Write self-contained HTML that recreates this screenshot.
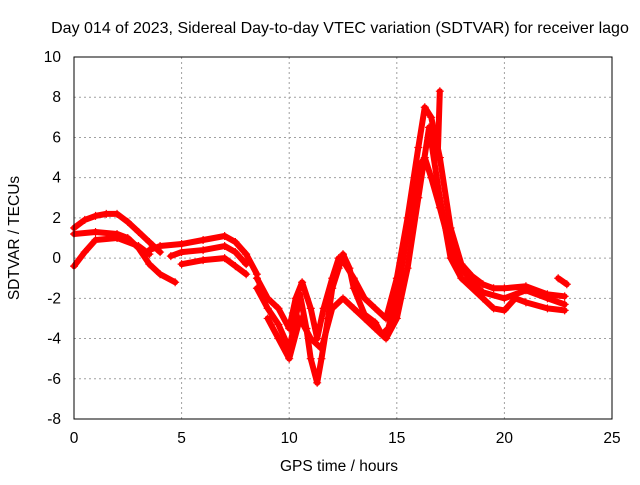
<!DOCTYPE html>
<html><head><meta charset="utf-8"><style>
body{margin:0;background:#fff}
svg text{font-family:"Liberation Sans",sans-serif;font-size:15.5px;fill:#000}
</style></head><body>
<svg id="c" width="640" height="480" xmlns="http://www.w3.org/2000/svg">
<text x="340" y="33" text-anchor="middle" style="font-size:16px">Day 014 of 2023, Sidereal Day-to-day VTEC variation (SDTVAR) for receiver lago</text>
<text x="339" y="471" text-anchor="middle">GPS time / hours</text>
<text transform="translate(19,238) rotate(-90)" text-anchor="middle">SDTVAR / TECUs</text>
<g id="grid"></g><g id="series"></g>
<rect x="74" y="57" width="538" height="362" fill="none" stroke="#000"/>
</svg>
<script>
const xTicks=[0,5,10,15,20,25];
const yTicks=[-8,-6,-4,-2,0,2,4,6,8,10];
const trackA=[[0,1.5],[0.5,1.9],[1,2.1],[1.5,2.2],[2,2.2],[2.5,1.8],[3,1.3],[3.5,0.8],[4,0.3]];
const trackB=[[0,1.2],[1,1.3],[2,1.2],[2.5,1.0],[3,0.5],[3.5,-0.3],[4,-0.8],[4.7,-1.2]];
const trackC=[[0,-0.4],[0.5,0.3],[1,0.9],[2,1.0],[3,0.6],[3.5,0.2]];
const trackD=[[3.5,0.4],[4,0.6],[5,0.7],[6,0.9],[7,1.1],[7.5,0.8],[8,0.2],[8.5,-0.8]];
const trackE=[[4.5,0.1],[5,0.3],[6,0.4],[7,0.6],[7.5,0.3],[8,-0.3]];
const trackF=[[5,-0.3],[6,-0.1],[7,0.0],[7.5,-0.4],[8,-0.8]];
const trackG=[[8.5,-1.5],[9,-2.5],[9.5,-3.3],[10,-4.5],[10.3,-3],[10.5,-1.8],[10.8,-3.5],[11,-5],[11.3,-6.2],[11.5,-5],[11.8,-3],[12,-1.5],[12.3,-0.5],[12.5,0.2],[12.8,-0.5],[13,-1.5],[13.5,-2.8],[14,-3.2],[14.3,-3.8],[14.6,-3.5],[15,-2],[15.3,0],[15.6,2],[16,4.5],[16.3,5],[16.6,4],[17,2.5],[17.5,0.5],[18,-0.5],[18.5,-1.2],[19,-1.7],[20,-2.0],[21,-1.6],[22,-2.0],[22.8,-2.3]];
const trackH=[[8.5,-1],[9,-2],[9.5,-2.5],[10,-3.5],[10.3,-2],[10.6,-1.2],[11,-2.5],[11.3,-4],[11.6,-2.5],[12,-1],[12.3,0],[12.6,-0.3],[13,-1],[13.5,-2],[14,-2.5],[14.5,-3],[15,-1],[15.5,2],[16,5.5],[16.3,7.5],[16.6,7],[17,5],[17.5,1.5],[18,-0.3],[18.5,-0.9],[19,-1.3],[19.5,-1.5],[20,-1.5],[21,-1.4],[22,-1.8],[22.8,-1.9]];
const trackI=[[9,-3],[9.5,-4],[10,-5],[10.5,-3],[11,-4],[11.5,-4.5],[12,-2.5],[12.5,-2],[13,-2.5],[13.5,-3],[14,-3.5],[14.5,-4],[15,-3],[15.5,-0.5],[16,3],[16.5,6.5],[17,3],[17.5,0],[18,-1],[19,-2],[19.5,-2.5],[20,-2.6],[20.5,-2.0],[21,-2.2],[22,-2.5],[22.8,-2.6]];
const trackJ=[[16.9,5],[17.0,8.3]];
const trackK=[[22.5,-1.0],[22.9,-1.3]];
const tracks=[trackA,trackB,trackC,trackD,trackE,trackF,trackG,trackH,trackI,trackJ,trackK];
const X=v=>74+v*538/25, Y=v=>419-(v+8)*362/18;
const NS="http://www.w3.org/2000/svg";
const grid=document.getElementById('grid'), ser=document.getElementById('series'), svg=document.getElementById('c');
function mk(t,a,p){const e=document.createElementNS(NS,t);for(const k in a)e.setAttribute(k,a[k]);p.appendChild(e);return e;}
xTicks.forEach(v=>{
 if(v>0&&v<25){const l=mk('line',{x1:X(v),x2:X(v),y1:57,y2:419,stroke:'#a0a0a0','stroke-dasharray':'2,3'},grid);
 
 }
 const t=mk('text',{x:X(v),y:443,'text-anchor':'middle'},svg);t.textContent=v;
 
 
});
yTicks.forEach(v=>{
 if(v>-8&&v<10){const l=mk('line',{x1:74,x2:612,y1:Y(v),y2:Y(v),stroke:'#a0a0a0','stroke-dasharray':'2,3'},grid);
 
 }
 const t=mk('text',{x:61,y:Y(v)+5,'text-anchor':'end'},svg);t.textContent=v;
 
 
});
tracks.forEach(tr=>{
 const p=mk('polyline',{points:tr.map(d=>X(d[0])+','+Y(d[1])).join(' '),fill:'none',stroke:'#ff0000','stroke-width':6,'stroke-linejoin':'round','stroke-linecap':'round'},ser);
 
 
 tr.forEach(d=>{
  const m=mk('path',{d:`M${X(d[0])-4},${Y(d[1])}h8M${X(d[0])},${Y(d[1])-4}v8`,stroke:'#ff0000','stroke-width':1.2},ser);
  
  
 });
});
</script>
</body></html>
